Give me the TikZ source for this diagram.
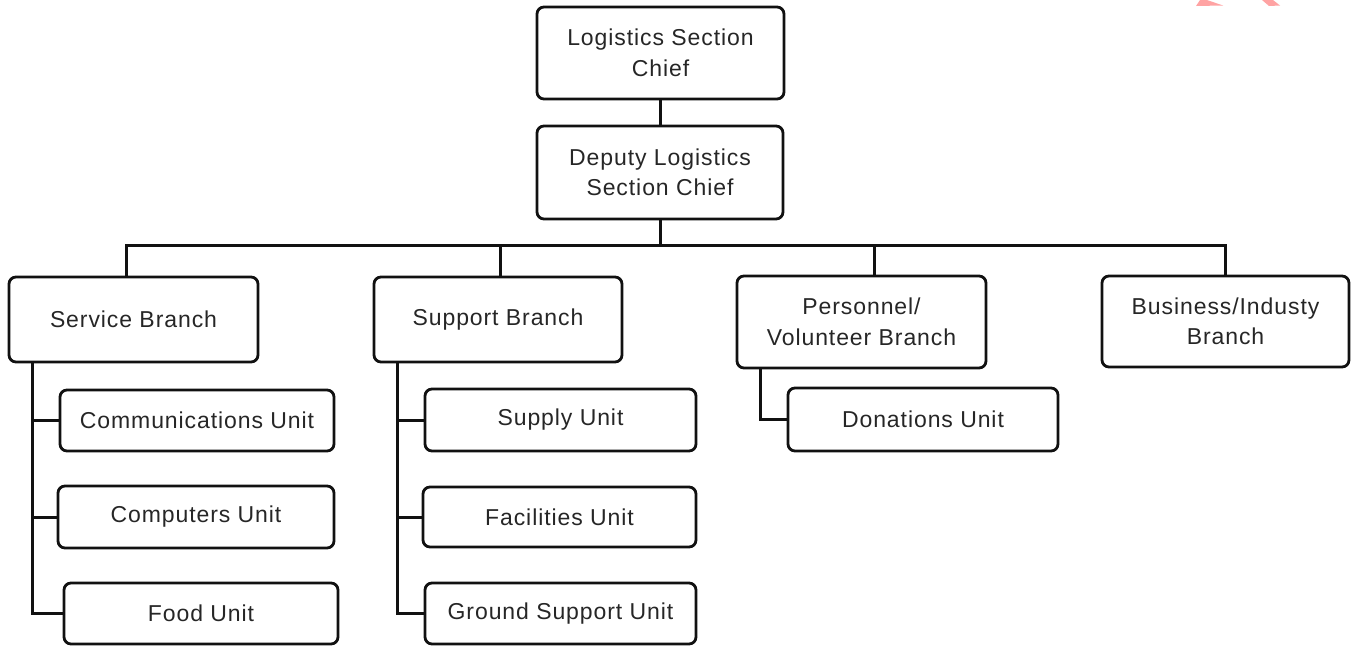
\documentclass[tikz,border=0pt]{standalone}
\usepackage{fontspec}
\setmainfont{Liberation Sans}[LetterSpace=4]
\usetikzlibrary{calc}
\definecolor{ink}{HTML}{111111}
\definecolor{txt}{HTML}{262626}
\definecolor{cornerpink}{HTML}{FFA3A3}
\begin{document}
\begin{tikzpicture}[x=1pt,y=-1pt,
  box/.style 2 args={draw=ink, line width=2.8pt, rounded corners=7pt,
    inner sep=0pt, align=center, text=txt,
    font=\fontsize{23}{30.5}\selectfont,
    minimum width=#1pt, minimum height=#2pt},
  wire/.style={draw=ink, line width=3pt}]
\useasboundingbox (0,0) rectangle (1353,646);

% corner marks at the top right
\fill[cornerpink] (1200,0) -- (1207,0) -- (1223,5.5) -- (1196,6) -- cycle;
\fill[cornerpink] (1262,0) -- (1273,0) -- (1280,5.5) -- (1269,6) -- cycle;

% section chief and deputy
\node[box={247}{92}] (lsc)  at (660.5,53)  {Logistics Section\\[1pt]Chief};
\node[box={246}{93}] (dlsc) at (660,172.5) {Deputy Logistics\\Section Chief};

% branches
\node[box={249}{85}] (svc) at (133.5,319.5) {Service Branch};
\node[box={248}{85}] (sup) at (498,319.5)   {Support Branch};
\node[box={249}{92}] (per) at (861.5,322)   {Personnel/\\Volunteer Branch};
\node[box={247}{91}] (bus) at (1225.5,321.5){Business/Industy\\Branch};

% service branch units
\node[box={274}{61}] (comm) at (197,420.5) {Communications Unit};
\node[box={276}{62}] (comp) at (196,517)   {Computers Unit};
\node[box={274}{61}] (food) at (201,613.5) {Food Unit};

% support branch units
\node[box={271}{62}] (supply) at (560.5,420)   {Supply Unit};
\node[box={273}{60}] (fac)    at (559.5,517)   {Facilities Unit};
\node[box={271}{61}] (gnd)    at (560.5,613.5) {Ground Support Unit};

% personnel branch unit
\node[box={270}{63}] (don) at (923,419.5) {Donations Unit};

% chain of command
\draw[wire] (lsc.south) -- (lsc.south |- dlsc.north);
\coordinate (bar)  at (660,245);
\coordinate (dsvc) at (126,245);
\coordinate (dsup) at (500,245);
\coordinate (dper) at (874,245);
\coordinate (dbus) at (1225,245);
\draw[wire] (dlsc.south) -- (bar);
\draw[wire] (dsvc |- svc.north) -- (dsvc) -- (dbus) -- (dbus |- bus.north);
\draw[wire] (dsup) -- (dsup |- sup.north);
\draw[wire] (dper) -- (dper |- per.north);

% unit spines
\coordinate (sx) at (32,0);
\coordinate (ux) at (397,0);
\coordinate (px) at (760,0);
\draw[wire] (sx |- svc.south) |- (food.west);
\draw[wire] (sx |- comm.west) -- (comm.west);
\draw[wire] (sx |- comp.west) -- (comp.west);
\draw[wire] (ux |- sup.south) |- (gnd.west);
\draw[wire] (ux |- supply.west) -- (supply.west);
\draw[wire] (ux |- fac.west) -- (fac.west);
\draw[wire] (px |- per.south) |- (don.west);
\end{tikzpicture}
\end{document}
